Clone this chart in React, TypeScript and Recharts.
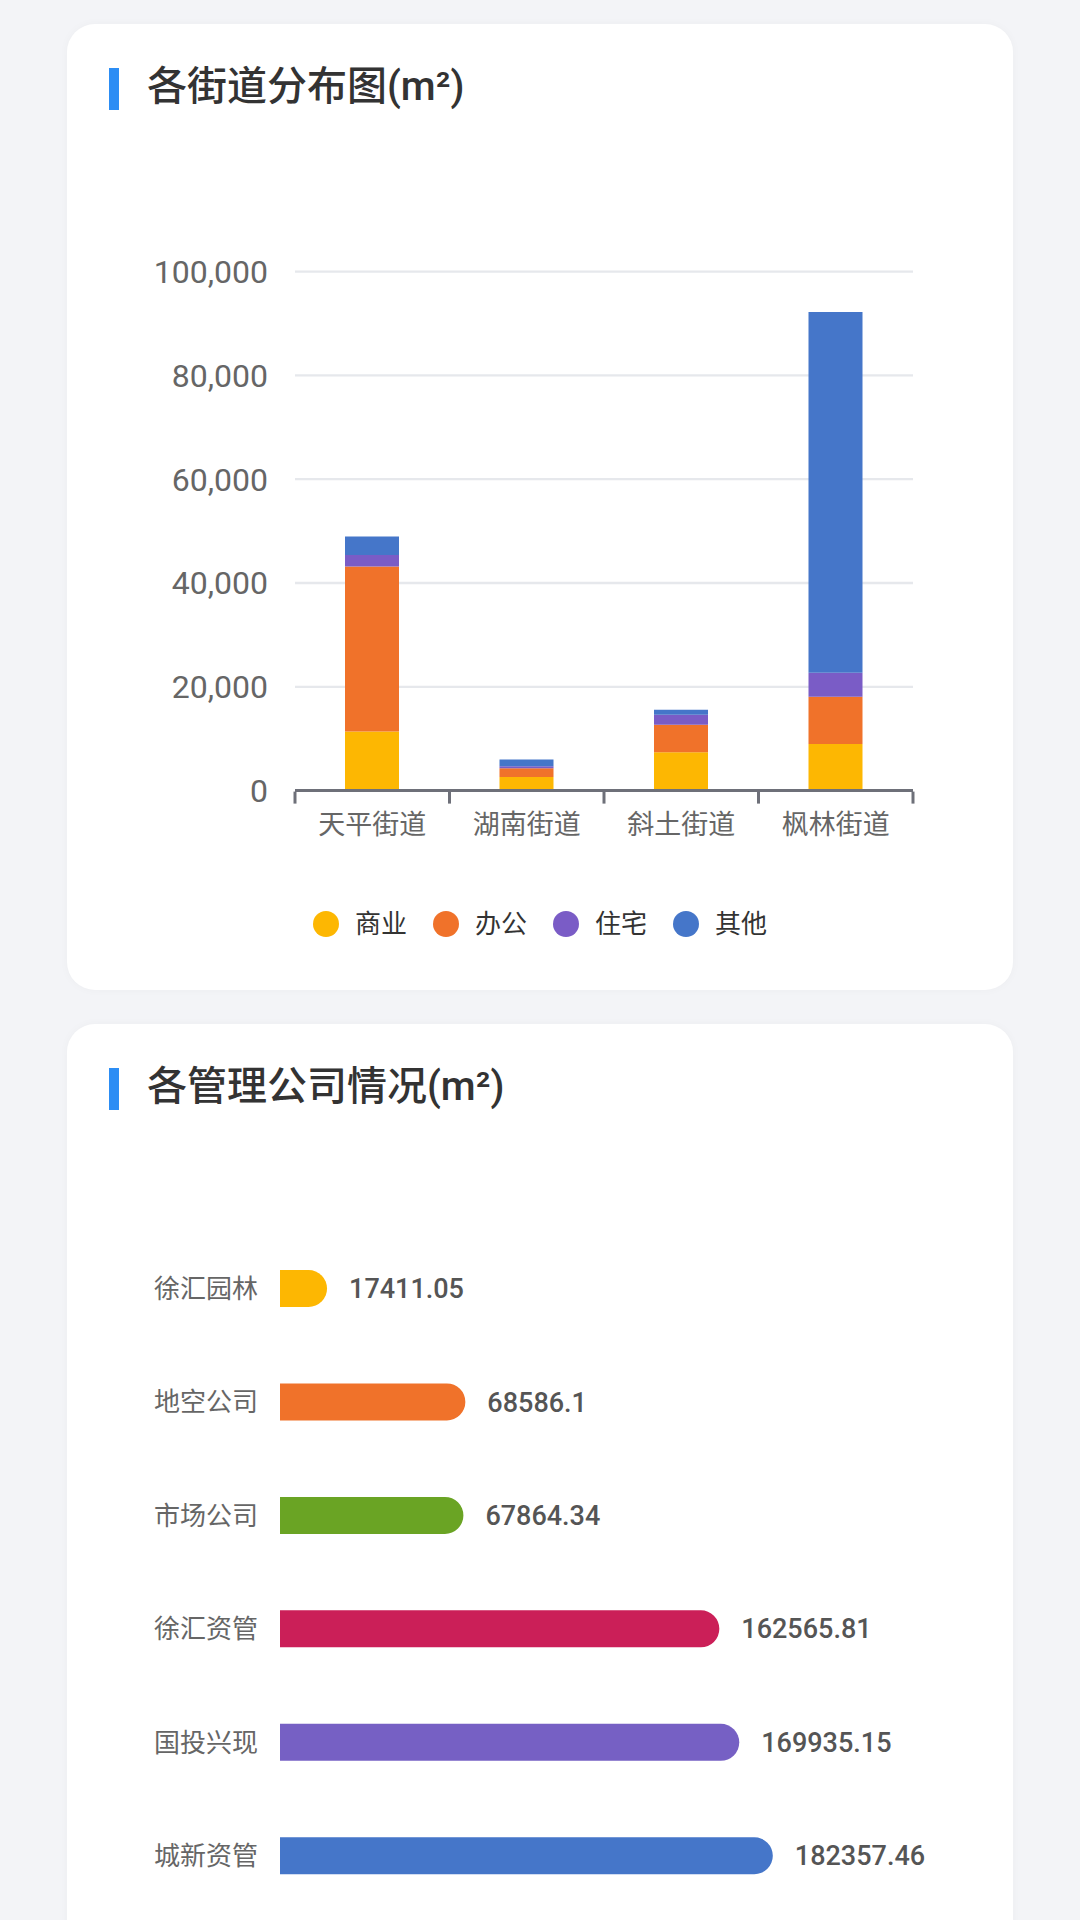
import React from 'react';
import { BarChart, Bar, XAxis, YAxis, CartesianGrid, Legend, LabelList, Cell } from 'recharts';

// ---- Chart 1: 各街道分布图 ----
const streets = ['天平街道', '湖南街道', '斜土街道', '枫林街道'];
const seriesNames = ['商业', '办公', '住宅', '其他'];
const seriesColors = ['#FDB702', '#F0722A', '#7A5CC6', '#4576C9'];
const commercial = [11400, 2600, 7400, 9000];
const office = [31800, 1700, 5300, 9100];
const residential = [2200, 400, 1900, 4600];
const other = [3550, 1300, 1000, 69500];
const yTicks = [0, 20000, 40000, 60000, 80000, 100000];
const edgeTicks = [0, 1, 2, 3, 4];

// ---- Chart 2: 各管理公司情况 ----
const companies = ['徐汇园林', '地空公司', '市场公司', '徐汇资管', '国投兴现', '城新资管'];
const companyValues = [17411.05, 68586.1, 67864.34, 162565.81, 169935.15, 182357.46];
const companyColors = ['#FDB702', '#F0722A', '#6AA424', '#CB1F58', '#7660C4', '#4576C9'];

const seriesValues = [commercial, office, residential, other];
const streetData = streets.map((name, i) => {
  const row: Record<string, any> = { name, slot: i + 0.5 };
  seriesNames.forEach((s, k) => {
    row[s] = seriesValues[k][i];
  });
  return row;
});
const companyData = companies.map((name, i) => ({ name, value: companyValues[i] }));

const FONT = "Roboto, 'Noto Sans CJK SC', 'Noto Sans', sans-serif";

const renderLegend = () => (
  <div style={{ display: 'flex', justifyContent: 'center', alignItems: 'center', gap: 26 }}>
    {seriesNames.map((n, i) => (
      <div key={n} style={{ display: 'flex', alignItems: 'center' }}>
        <svg width={26} height={26} style={{ display: 'block' }}>
          <circle cx={13} cy={13} r={13} fill={seriesColors[i]} />
        </svg>
        <span style={{ marginLeft: 16, fontSize: 26, color: '#333', lineHeight: '26px' }}>{n}</span>
      </div>
    ))}
  </div>
);

const Title = ({ top, text }: { top: number; text: string }) => (
  <>
    <div style={{ position: 'absolute', left: 109, top, width: 10, height: 42, background: '#2C8DF4' }} />
    <div
      style={{
        position: 'absolute',
        left: 147,
        top: top - 2,
        height: 42,
        lineHeight: '42px',
        fontSize: 40,
        fontWeight: 500,
        color: '#333',
        whiteSpace: 'nowrap',
      }}
    >
      {text}
    </div>
  </>
);

export default function App() {
  return (
    <div
      style={{
        position: 'absolute',
        left: 0,
        top: 0,
        width: 1080,
        height: 1920,
        overflow: 'hidden',
        background: '#F3F4F7',
        fontFamily: FONT,
      }}
    >
      <div
        style={{
          position: 'absolute',
          left: 67,
          top: 24,
          width: 946,
          height: 966,
          borderRadius: 28,
          background: '#fff',
          boxShadow: '0 0 10px rgba(0,0,0,0.03)',
        }}
      />
      <div
        style={{
          position: 'absolute',
          left: 67,
          top: 1024,
          width: 946,
          height: 1000,
          borderRadius: 28,
          background: '#fff',
          boxShadow: '0 0 10px rgba(0,0,0,0.03)',
        }}
      />
      <Title top={68} text="各街道分布图(m²)" />
      <Title top={1068} text="各管理公司情况(m²)" />

      <div style={{ position: 'absolute', left: 0, top: 0 }}>
        <BarChart
          width={1080}
          height={1000}
          data={streetData}
          margin={{ top: 271.6, right: 167, bottom: 207.4, left: 0 }}
        >
          <CartesianGrid xAxisId="cat" vertical={false} stroke="#E6E8EC" strokeWidth={2.3} />
          <XAxis
            xAxisId="edge"
            type="number"
            dataKey="slot"
            domain={[0, 4]}
            ticks={edgeTicks}
            tickCount={5}
            interval={0}
            allowDataOverflow
            allowDecimals
            height={1}
            axisLine={false}
            tickFormatter={() => ''}
            tick={{ fontSize: 1 }}
            tickSize={12}
            tickLine={{ stroke: '#6E7079', strokeWidth: 3 }}
          />
          <XAxis
            xAxisId="cat"
            dataKey="name"
            height={1}
            interval={0}
            axisLine={{ stroke: '#6E7079', strokeWidth: 3 }}
            tickLine={false}
            tickSize={0}
            tickMargin={24}
            tick={{ fontSize: 27, fill: '#666' }}
          />
          <YAxis
            width={295}
            domain={[0, 100000]}
            ticks={yTicks}
            axisLine={false}
            tickLine={false}
            tickSize={0}
            tickMargin={27}
            tickFormatter={(v: number) => v.toLocaleString('en-US')}
            tick={{ fontSize: 32, fill: '#666' }}
          />
          <Legend
            layout="horizontal"
            verticalAlign="middle"
            align="center"
            content={renderLegend}
            wrapperStyle={{ top: 911, left: 0, width: 1080, height: 26 }}
          />
          {seriesNames.map((s, k) => (
            <Bar
              key={s}
              xAxisId="cat"
              dataKey={s}
              name={s}
              stackId="a"
              fill={seriesColors[k]}
              barSize={54}
              isAnimationActive={false}
            />
          ))}
        </BarChart>
      </div>

      <div style={{ position: 'absolute', left: 0, top: 1000 }}>
        <BarChart
          layout="vertical"
          width={1080}
          height={920}
          data={companyData}
          margin={{ top: 232, right: 259.5, bottom: 7.3, left: 0 }}
        >
          <XAxis type="number" domain={[0, 200000]} allowDataOverflow hide />
          <YAxis
            type="category"
            dataKey="name"
            width={280}
            interval={0}
            axisLine={false}
            tickLine={false}
            tickSize={0}
            tickMargin={22}
            tick={{ fontSize: 26, fill: '#666' }}
          />
          <Bar dataKey="value" barSize={37} radius={[0, 18.5, 18.5, 0]} isAnimationActive={false}>
            {companyData.map((d, i) => (
              <Cell key={d.name} fill={companyColors[i]} />
            ))}
            <LabelList dataKey="value" position="right" offset={22} fill="#555" fontSize={27} fontWeight={500} />
          </Bar>
        </BarChart>
      </div>
    </div>
  );
}
